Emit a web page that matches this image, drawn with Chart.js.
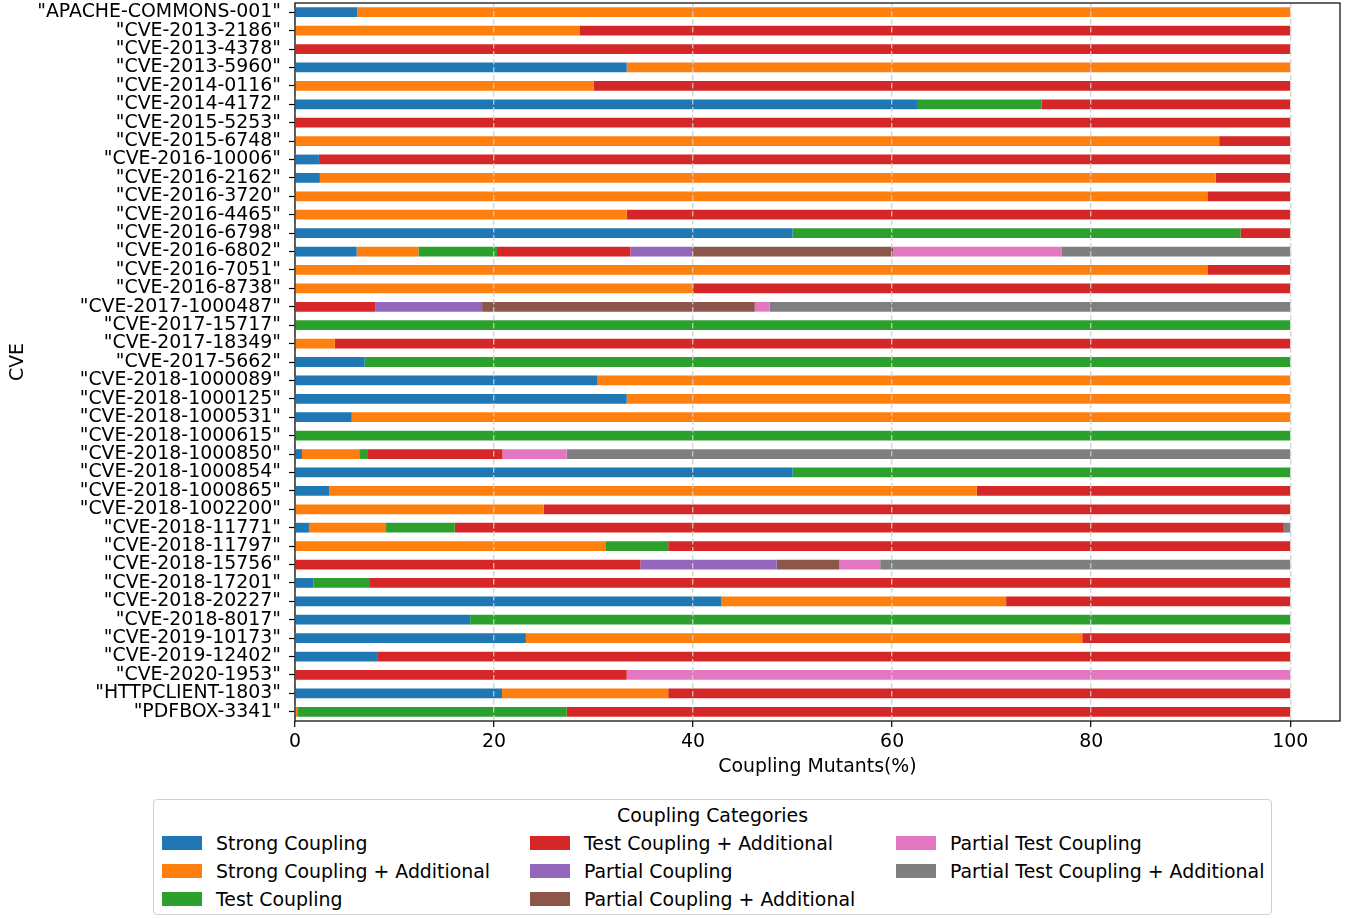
<!DOCTYPE html>
<html>
<head>
<meta charset="utf-8">
<script src="https://cdn.jsdelivr.net/npm/chart.js@4.4.1/dist/chart.umd.min.js"></script>
<style>
    body { margin: 0; background: #fff; font-family: "DejaVu Sans", sans-serif; }
    #wrap { position: relative; width: 1348px; height: 918px; }
    #chart { position: absolute; left: 0; top: 0; }
    #legend {
        position: absolute; left: 153px; top: 799px; width: 1119px; height: 116px;
        border: 1px solid #d0d0d0; border-radius: 4px; box-sizing: border-box; background: #fff;
        font-size: 18.9px; color: #000;
    }
    #legend .title { position: absolute; left: 0; width: 100%; top: 4px; text-align: center; }
    #legend .item { position: absolute; height: 24px; line-height: 24px; white-space: nowrap; }
    #legend .swatch { position: absolute; left: 0; top: 5px; width: 40px; height: 14px; }
    #legend .label { position: absolute; left: 54px; top: 0; }
</style>
</head>
<body>
<div id="wrap">
    <canvas id="chart" width="1348" height="790"></canvas>
    <div id="legend"><div class="title">Coupling Categories</div></div>
</div>
<script>
const categories = [
    '"APACHE-COMMONS-001"', '"CVE-2013-2186"', '"CVE-2013-4378"', '"CVE-2013-5960"', '"CVE-2014-0116"',
    '"CVE-2014-4172"', '"CVE-2015-5253"', '"CVE-2015-6748"', '"CVE-2016-10006"', '"CVE-2016-2162"',
    '"CVE-2016-3720"', '"CVE-2016-4465"', '"CVE-2016-6798"', '"CVE-2016-6802"', '"CVE-2016-7051"',
    '"CVE-2016-8738"', '"CVE-2017-1000487"', '"CVE-2017-15717"', '"CVE-2017-18349"', '"CVE-2017-5662"',
    '"CVE-2018-1000089"', '"CVE-2018-1000125"', '"CVE-2018-1000531"', '"CVE-2018-1000615"', '"CVE-2018-1000850"',
    '"CVE-2018-1000854"', '"CVE-2018-1000865"', '"CVE-2018-1002200"', '"CVE-2018-11771"', '"CVE-2018-11797"',
    '"CVE-2018-15756"', '"CVE-2018-17201"', '"CVE-2018-20227"', '"CVE-2018-8017"', '"CVE-2019-10173"',
    '"CVE-2019-12402"', '"CVE-2020-1953"', '"HTTPCLIENT-1803"', '"PDFBOX-3341"'
];

// percentages per category, one array per coupling type
const strongCoupling = [6.25,0,0,33.33,0,62.5,0,0,2.4,2.5, 0,0,50,6.2,0,0,0,0,0,7.0, 30.4,33.33,5.7,0,0.7,50,3.45,0,1.4,0, 0,1.85,42.85,17.6,23.2,8.33,0,20.8,0];
const strongCouplingAdd = [93.75,28.57,0,66.67,30,0,0,92.86,0,90, 91.67,33.33,0,6.2,91.67,40,0,0,4.0,0, 69.6,66.67,94.3,0,5.75,0,65.05,25,7.75,31.25, 0,0,28.6,0,55.9,0,0,16.7,0.3];
const testCoupling = [0,0,0,0,0,12.5,0,0,0,0, 0,0,45,7.9,0,0,0,100,0,93.0, 0,0,0,100,0.8,50,0,0,6.9,6.25, 0,5.6,0,82.4,0,0,0,0,27.0];
const testCouplingAdd = [0,71.43,100,0,70,25,100,7.14,97.6,7.5, 8.33,66.67,5,13.4,8.33,60,8.1,0,96.0,0, 0,0,0,0,13.6,0,31.5,75,83.3,62.5, 34.7,92.55,28.55,0,20.9,91.67,33.33,62.5,72.7];
const partialCoupling = [0,0,0,0,0,0,0,0,0,0, 0,0,0,6.2,0,0,10.7,0,0,0, 0,0,0,0,0,0,0,0,0,0, 13.7,0,0,0,0,0,0,0,0];
const partialCouplingAdd = [0,0,0,0,0,0,0,0,0,0, 0,0,0,20.2,0,0,27.4,0,0,0, 0,0,0,0,0,0,0,0,0,0, 6.3,0,0,0,0,0,0,0,0];
const partialTestCoupling = [0,0,0,0,0,0,0,0,0,0, 0,0,0,16.9,0,0,1.5,0,0,0, 0,0,0,0,6.45,0,0,0,0,0, 4.1,0,0,0,0,0,66.67,0,0];
const partialTestCouplingAdd = [0,0,0,0,0,0,0,0,0,0, 0,0,0,23.0,0,0,52.3,0,0,0, 0,0,0,0,72.7,0,0,0,0.65,0, 41.2,0,0,0,0,0,0,0,0];

const seriesNames = [
    'Strong Coupling', 'Strong Coupling + Additional', 'Test Coupling', 'Test Coupling + Additional',
    'Partial Coupling', 'Partial Coupling + Additional', 'Partial Test Coupling', 'Partial Test Coupling + Additional'
];
const seriesValues = [
    strongCoupling, strongCouplingAdd, testCoupling, testCouplingAdd,
    partialCoupling, partialCouplingAdd, partialTestCoupling, partialTestCouplingAdd
];
const seriesColors = ['#1f77b4', '#ff7f0e', '#2ca02c', '#d62728', '#9467bd', '#8c564b', '#e377c2', '#7f7f7f'];
const xTicks = [0, 20, 40, 60, 80, 100];

const font = { family: 'DejaVu Sans', size: 18.9 };

// black frame round the plot area
const frameBox = {
    id: 'frameBox',
    afterDraw(chart) {
        const { ctx, chartArea: a } = chart;
        ctx.save();
        ctx.strokeStyle = '#000';
        ctx.lineWidth = 1.2;
        ctx.strokeRect(a.left, a.top, a.right - a.left, a.bottom - a.top);
        ctx.restore();
    }
};

new Chart(document.getElementById('chart'), {
    type: 'bar',
    data: {
        labels: categories,
        datasets: seriesNames.map((name, i) => ({
            label: name,
            data: seriesValues[i],
            backgroundColor: seriesColors[i],
            borderWidth: 0,
            barPercentage: 0.53,
            categoryPercentage: 1
        }))
    },
    options: {
        indexAxis: 'y',
        responsive: false,
        animation: false,
        layout: { padding: { top: 3, right: 8, left: 0, bottom: 0 } },
        plugins: { legend: { display: false }, tooltip: { enabled: false } },
        scales: {
            x: {
                stacked: true,
                min: 0,
                max: 105,
                afterFit(s) { s.height = 69; s.paddingLeft = 0; s.paddingRight = 0; },
                afterBuildTicks(s) { s.ticks = xTicks.map(v => ({ value: v })); },
                ticks: { color: '#000', font: font, padding: 4, maxRotation: 0 },
                grid: {
                    z: 1, color: 'rgba(205,205,205,0.85)', lineWidth: 1.4,
                    tickLength: 6, tickColor: '#000', tickWidth: 1.2, tickBorderDash: []
                },
                border: { display: false, dash: [5.5, 2.5] },
                title: { display: true, text: 'Coupling Mutants(%)', color: '#000', font: font, padding: { top: 0, bottom: 12 } }
            },
            y: {
                stacked: true,
                afterFit(s) { s.width = 295; s.paddingTop = 0; s.paddingBottom = 0; },
                ticks: { color: '#000', font: font, padding: 8, autoSkip: false },
                grid: { drawOnChartArea: false, offset: false, tickLength: 6, tickColor: '#000', tickWidth: 1.2 },
                border: { display: false },
                title: { display: true, text: 'CVE', color: '#000', font: font, padding: { top: 7, bottom: 0 } }
            }
        }
    },
    plugins: [frameBox]
});

// legend, filled column by column like the original
const legend = document.getElementById('legend');
const colX = [8, 376, 742];
seriesNames.forEach((name, i) => {
    const col = Math.floor(i / 3), row = i % 3;
    const item = document.createElement('div');
    item.className = 'item';
    item.style.left = colX[col] + 'px';
    item.style.top = (31 + row * 28) + 'px';
    item.innerHTML = `<div class="swatch" style="background:${seriesColors[i]}"></div><div class="label">${name}</div>`;
    legend.appendChild(item);
});
</script>
</body>
</html>
